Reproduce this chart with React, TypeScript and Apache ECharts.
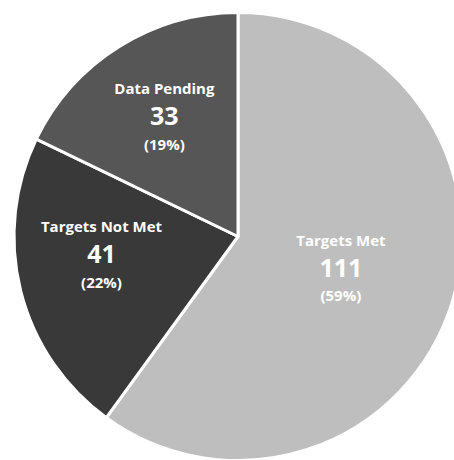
import React, { useEffect, useRef } from "react";
import * as echarts from "echarts";

const categories = ["Targets Met", "Targets Not Met", "Data Pending"];
const values = [111, 41, 33];
const percentLabels = [59, 22, 19];
const sliceColors = ["#bebebe", "#393939", "#565656"];

const labelPadding = [
  [0, 13, 8, 0],
  [0, 50, 20, 0],
  [0, 25, 45, 0],
];

export default function App() {
  const ref = useRef<HTMLDivElement>(null);
  useEffect(() => {
    document.body.style.margin = "0";
    const chart = echarts.init(ref.current!, null, { renderer: "svg" });
    chart.setOption({
      animation: false,
      backgroundColor: "#ffffff",
      series: [
        {
          type: "pie",
          center: [238, 236.5],
          radius: [0, 224],
          startAngle: 90,
          clockwise: true,
          silent: true,
          itemStyle: { borderColor: "#ffffff", borderWidth: 3 },
          label: {
            show: true,
            position: "inner",
            color: "#ffffff",
            fontFamily: "Open Sans",
            formatter: (p: any) =>
              `{n|${p.name}}\n{v|${p.value}}\n{p|(${percentLabels[p.dataIndex]}%)}`,
            rich: {
              n: { fontSize: 15, fontWeight: "bold", lineHeight: 24, color: "#ffffff", fontFamily: "Open Sans" },
              v: { fontSize: 25, fontWeight: "bold", lineHeight: 30, color: "#ffffff", fontFamily: "Open Sans" },
              p: { fontSize: 15, fontWeight: "bold", lineHeight: 27, color: "#ffffff", fontFamily: "Open Sans" },
            },
          },
          labelLine: { show: false },
          data: categories.map((name, i) => ({
            name,
            value: values[i],
            itemStyle: { color: sliceColors[i] },
            label: { padding: labelPadding[i] },
          })),
        },
      ],
    });
    return () => chart.dispose();
  }, []);
  return <div ref={ref} style={{ width: 454, height: 460 }} />;
}
